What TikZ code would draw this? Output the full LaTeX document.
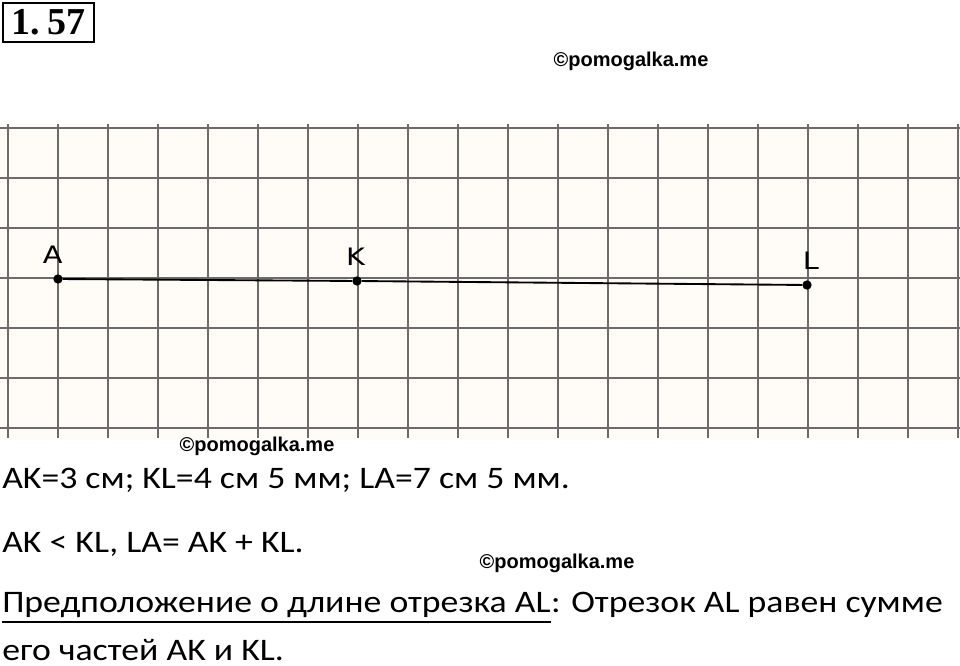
\documentclass[tikz,border=0pt]{standalone}
\usepackage{fontspec}
\setmainfont{Carlito}[FakeStretch=1.14]
\newfontfamily\wmfont{Liberation Sans}
\newfontfamily\lblfont{DejaVu Sans}[FakeStretch=1.2]
\newfontfamily\numfont{Liberation Serif}
\usetikzlibrary{positioning}

\begin{document}
\begin{tikzpicture}[x=0.75pt, y=-0.75pt,
  gridline/.style={draw=black!58, line width=1.1pt},
  dot/.style={circle, fill=black, inner sep=0pt, minimum size=7pt},
  ptlabel/.style={font=\lblfont\fontsize{18}{18}\selectfont, inner sep=0pt},
  wm/.style={font=\wmfont\bfseries\fontsize{15}{15}\selectfont, inner sep=0pt},
  txt/.style={font=\fontsize{23.5}{28}\selectfont, anchor=base west, inner sep=0pt},
]
\useasboundingbox (0,0) rectangle (960,666);
\fill[white] (0,0) rectangle (960,666);
\fill[orange!3] (0,124) rectangle (960,440);

% squared paper
\foreach \x in {8,58,...,958} \draw[gridline] (\x,124) -- (\x,438);
\foreach \y in {128,178,...,428} \draw[gridline] (0,\y) -- (960,\y);

\node[draw, line width=1.7pt, minimum width=68pt, minimum height=29pt, inner sep=0pt,
  font=\numfont\bfseries\fontsize{28.5}{28.5}\selectfont] (num) at (48.5,22.5) {1.\hspace{6pt}57};

% segment AL
\node[dot] (A) at (58,279) {};
\node[dot] (K) at (357,281) {};
\node[dot] (L) at (807,285) {};
\draw[line width=1.4pt] (A) -- (K) -- (L);
\node[ptlabel, above=8pt of A, xshift=-4pt] (lA) {A};
\node[ptlabel, above=8pt of K, xshift=-1pt] (lK) {K};
\node[ptlabel, above=8pt of L, xshift=3pt] (lL) {L};

% watermarks
\node[wm] (wm1) at (631,61) {©pomogalka.me};
\node[wm] (wm2) at (257,446) {©pomogalka.me};
\node[wm] (wm3) at (557,563) {©pomogalka.me};

% answer
\node[txt] (t1) at (2,488) {AK=3 см; KL=4 см 5 мм; LA=7 см 5 мм.};
\node[txt] (t2) at (2,552) {AK < KL, LA= AK + KL.};
\node[txt] (t3a) at (2,612) {Предположение о длине отрезка AL};
\node[txt, anchor=base west] (t3b) at (t3a.base east) {: Отрезок AL равен сумме};
\node[txt] (t4) at (2,660) {его частей AK и KL.};
\draw[line width=1.5pt] ([yshift=-7.5pt]t3a.base west) -- ([yshift=-7.5pt]t3a.base east);
\end{tikzpicture}
\end{document}
